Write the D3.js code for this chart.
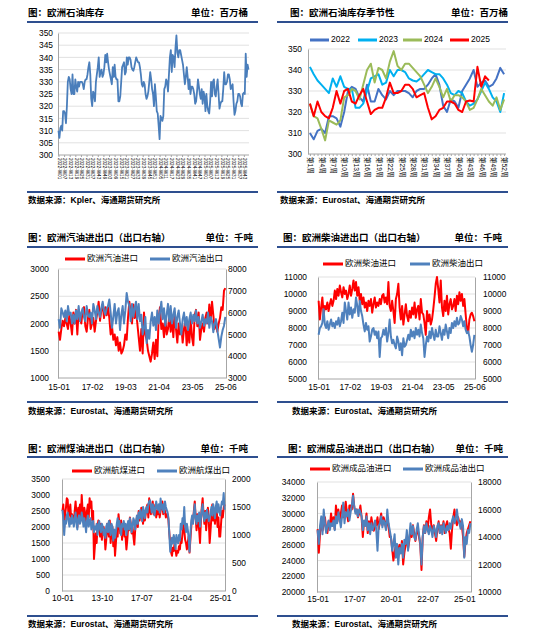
<!DOCTYPE html>
<html>
<head>
<meta charset="utf-8">
<script src="https://cdn.jsdelivr.net/npm/d3@7"></script>
<style>
  body { margin: 0; background: #fff; }
  svg text { font-family: "Liberation Sans", Arial, "Noto Sans CJK SC", sans-serif; fill: #000; }
</style>
</head>
<body>
<svg id="chart" width="550" height="637"></svg>
<script>
// ---- Weekly crude inventories (million bbl), by year ----
const inv2022 = [310,307,311,312,310,318,318,317,313,320,330,332,331,327,325,333,325,325,331,328,326,330,328,330,330,330,329,327,330,331,331,333,336,338,333,323,320,326,325,322,330,333,336,340,332,334,335,332,333,336,341,338];
const inv2023 = [341.5,338,335,333,331,329,336,332,337,332,331,331,322,322,324,330,336,337,338,333,334,340,337,340,340,339,336,335,334.5,336,338,340,339,338,338,336,333,329,328,330,329,325,323,324,326,330,334,331,327,325,320,329];
const inv2024 = [324,318,317,312,306.5,316,315,314,316,327,328,331,330,326,333,340,343,334,341,340,336,344,349,342,340,343,343,341,339,337,333,329,332,336,332,327,331,325,328,328,327,325,321,322,326,331,328,325,323,327,321,326];
const inv2025 = [324,318,325,320,318,317,322,330,324,330,331,325,324,328,331,325,319,321,322,322,327,334,329,329,330,333,333,331,327,328,329,322,316.5,318,321,322,325,325,324,321,320,325,325.5,325,341.5,332,337,335];

const invTicks = ["2022-W01","2022-W07","2022-W13","2022-W19","2022-W25","2022-W31","2022-W37","2022-W43","2022-W49",
  "2023-W03","2023-W09","2023-W15","2023-W21","2023-W27","2023-W33","2023-W39","2023-W45","2023-W51",
  "2024-W05","2024-W11","2024-W17","2024-W23","2024-W29","2024-W35","2024-W41","2024-W47",
  "2025-W01","2025-W07","2025-W13","2025-W19","2025-W25","2025-W31","2025-W37","2025-W43"];
const seasonYears = ["2022","2023","2024","2025"];
const seasonColors = ["#4472C4","#00B0F0","#9BBB59","#FF0000"];
const weekTicks = [1,4,7,10,13,16,19,22,25,28,31,34,37,40,43,46,49,52];

// ---- Gasoline imports / exports (kt), monthly 2015-01 .. 2025-06 ----
const gasImp = [1850,1700,1900,2050,1950,2100,2000,1900,2150,2000,1800,2200,
  2000,2250,1800,2250,2100,2000,2250,2300,1950,1850,2100,2250,
  1900,2000,2100,1850,2050,2200,2400,2050,2250,2350,2100,2300,
  2150,2300,2100,1800,1950,1700,1800,1600,1750,1500,1650,1450,
  1500,1600,1800,1700,2100,2400,2200,2000,2350,2100,2250,2000,
  1750,1500,1900,1450,2200,1800,1700,1500,1400,1300,1450,1650,
  1350,1700,1400,2100,2300,1900,2000,1750,2100,1800,1900,2150,
  1850,2100,1750,2200,1900,1650,2000,1800,1950,1650,1900,2050,
  1600,1900,1650,2100,1750,1600,2150,2250,1950,2200,1700,1900,
  2000,1850,2100,2200,2000,2350,2050,2400,2150,1900,2050,1850,
  2000,2100,2300,2250,2600,2650];
const gasExp = [5700,5300,6200,6000,5800,6100,5600,6300,5900,6000,5500,5900,
  5500,6100,5700,6300,5600,6000,6200,5800,5600,6300,5900,5800,
  6000,5500,6400,6100,5700,6300,6000,5800,6200,6500,6100,5900,
  6200,6300,6600,6000,5300,5800,6400,5500,6000,6200,5200,5900,
  6300,5500,6100,6900,6500,6300,5600,6400,5800,6200,6500,5700,
  6400,5600,5900,5000,5300,5800,4600,5200,4800,5600,6000,5400,
  5800,5200,6100,5500,6000,6500,5700,6200,5400,5900,6400,5600,
  6300,5500,5900,6200,5300,5800,6100,5500,5000,5700,6000,5400,
  5800,5200,5700,6000,5500,5900,5600,6100,5500,5800,5300,5600,
  5900,5400,5700,5500,6000,5300,5800,5600,5100,5500,5700,5200,
  4800,4400,4900,5200,5400,5800];
const gasTicks = ["15-01","17-02","19-03","21-04","23-05","25-06"];

// ---- Diesel imports / exports (kt), monthly 2015-01 .. 2025-06 ----
const dslImp = [9600,8500,9200,9800,8800,9300,9100,9500,9000,9400,9700,9300,
  9600,10200,9700,10300,9900,10500,10100,9800,10400,10000,10200,9700,
  10000,10500,9900,10300,10800,10200,10700,9900,10400,9600,10000,9400,
  9800,9200,9500,9000,9600,9300,9700,8900,9400,9800,9200,9500,
  9300,9700,9400,9900,10000,9500,9800,9400,10700,9300,9000,9600,
  9000,8300,9700,10000,10600,9200,8500,9300,8200,8800,9400,8700,
  8400,9000,8600,9200,8800,9500,8600,9100,9300,8500,9700,8900,
  8800,8300,7600,9000,8400,8800,8200,8500,9100,9800,10600,11000,
  10300,9500,10800,9200,8700,9600,9000,9900,8800,9400,9700,9100,
  9300,9700,9000,9900,9400,10100,9600,10000,9300,9700,8800,8000,
  7700,8500,8800,8900,8700,8400];
const dslExp = [7600,8000,8100,8300,9100,8200,8000,8400,7900,8200,8500,8100,
  8300,8000,8400,8200,8600,8100,8400,8900,8300,9500,9000,8500,
  9500,8800,9200,8600,9100,8900,9800,9300,8700,9600,9000,8700,
  8200,7800,8300,7900,8100,7200,7500,7900,8000,7600,7800,7400,
  7800,6300,7400,7500,7900,7600,8000,7200,7700,8500,7500,7100,
  7300,7000,6800,7500,7200,6700,7100,6400,7400,6900,7000,7300,
  7600,7300,7900,7500,7800,7400,8000,7600,7900,7500,8200,7700,
  7400,6300,7000,7500,7200,7800,7400,8000,7600,7300,7900,7500,
  7500,8100,7700,7300,7900,7600,8200,7800,7400,8000,7700,8300,
  8000,8400,8100,8600,8200,8300,8700,8500,8100,8400,7900,7700,
  7800,7500,7000,6600,7000,7600];
const dslTicks = ["15-01","17-02","19-03","21-04","23-05","25-06"];

// ---- Jet fuel imports / exports (kt), monthly 2010-01 .. 2025-06 ----
const jetImp = [2500,2700,2000,2400,2600,2900,2850,2300,2500,2700,2200,2400,
  2300,2100,2500,2800,2400,2000,2600,2400,2700,2300,3000,2500,
  2200,2600,2400,2000,2500,2700,2300,2900,2600,2800,2200,2500,
  1000,1400,1800,1500,2000,2200,1900,1700,2100,1600,1900,2000,
  1800,1300,1600,2100,1900,1700,2200,1500,1900,2000,1400,1800,
  1100,1500,1900,1700,2400,2100,1800,2200,1600,1900,2000,1700,
  1700,1300,1600,2000,1900,2300,2100,1800,2000,1700,1450,1900,
  2100,2300,2000,2500,2200,2400,2600,2300,2100,2500,2200,2400,
  2600,2700,2300,2900,2500,2400,2600,2800,2400,2500,2700,2300,
  2500,2400,2600,2300,2500,2700,2800,2400,2600,2500,2300,2400,
  2400,2200,1800,1500,1200,1100,1350,1250,1500,1300,1100,1250,
  1200,1400,1300,1600,1500,1800,2100,1900,1600,1500,1300,1500,
  1700,1200,1600,2000,2300,2200,2500,2800,2300,1900,2400,2100,
  1900,1500,2200,2600,2900,2400,2100,2500,1900,2300,2600,2200,
  1500,1900,2300,2700,2200,2500,2100,2400,2600,2000,2300,1700,
  1700,2100,2500,2300,2600,2700];
const jetExp = [1450,1300,1000,1250,1200,1350,1400,1250,1150,1300,1200,1350,
  1250,1150,1300,1400,1200,1100,1300,1350,1200,1250,1400,1300,
  1150,1300,1200,1050,1250,1350,1150,1250,1300,1100,1200,1250,
  1050,1150,1100,1200,1000,1150,1250,1100,1050,1200,1150,1000,
  1100,950,1150,1200,1050,1250,1100,1000,1200,1150,900,1100,
  950,1050,1200,1300,1150,1250,1100,1000,1200,1150,1250,1100,
  1200,1000,1150,1250,1100,1300,1200,1050,1150,1300,1250,1100,
  1250,1350,1200,1400,1300,1450,1350,1250,1500,1400,1300,1450,
  1500,1400,1550,1600,1620,1500,1400,1550,1500,1350,1450,1600,
  1500,1450,1550,1400,1650,1500,1450,1550,1400,1600,1500,1450,
  1400,1300,1000,700,800,950,850,1000,900,750,1000,900,
  850,1000,900,1200,1100,1300,1200,1500,1150,1050,1200,1100,
  950,700,1000,1250,1350,1200,1400,1550,1300,1200,1350,1250,
  1400,1150,1300,1450,1550,1350,1250,1400,1300,1450,1350,1250,
  1300,1400,1500,1350,1550,1450,1300,1500,1600,1400,1550,1450,
  1350,1500,1600,1550,1750,1450];
const jetTicks = ["10-01","13-10","17-07","21-04","25-01"];

// ---- Refined products imports / exports (kt), monthly 2015-01 .. 2025-06 ----
const prdImp = [28000,25000,27500,29000,27800,28500,29500,28000,27500,29000,28200,30000,
  28500,29500,28000,31000,29500,30500,29000,30000,31000,29500,30200,31500,
  30000,29000,31000,31000,30500,32500,30800,30200,30500,29500,30000,31000,
  29500,27000,29000,28500,30000,27500,29000,28000,29500,28500,27800,29000,
  28500,29500,28000,29000,30000,28500,29500,29000,28000,29500,28500,27000,
  27000,25500,24000,25000,26000,24500,25500,26000,25000,26500,23500,25000,
  26000,27000,25500,26500,28000,27000,28500,27500,26500,27500,28000,27000,
  26000,22800,27000,28500,27500,29000,28000,29500,30500,28500,27500,28500,
  27500,26500,28000,29000,27500,28500,28000,29000,27500,28500,29000,28000,
  27500,25500,28000,29500,30500,29000,28500,29500,28800,29000,28500,27000,
  24500,26500,27500,28000,28500,29000];
const prdExp = [14500,13500,14800,15500,14200,16000,15000,14300,14800,15200,14500,15000,
  14800,15200,14500,15500,15000,15800,15300,14700,15500,16500,15000,15800,
  15500,16000,15200,15800,16300,17000,16200,15700,16000,15500,16000,15800,
  15500,14500,15200,14800,15500,14500,15000,14200,15000,14500,14800,15200,
  14500,13000,14800,15000,15500,14700,15200,15000,14500,16000,15000,14500,
  14000,13000,13500,14200,12500,13500,12000,13200,12800,13500,12500,13800,
  13500,14500,13000,14000,15000,14200,14800,14000,13800,14500,15000,14200,
  13500,12000,14000,14800,14300,15000,14500,14200,14800,14500,14000,14800,
  14500,14000,14800,15000,14300,14800,14200,15000,14600,14300,14800,14500,
  15000,14600,15200,15500,15000,15300,16000,15200,15000,14600,15300,14800,
  12500,14000,13500,14500,14300,15000];
const prdTicks = ["15-01","17-07","20-01","22-07","25-01"];

// ---- helpers ----
const svg = d3.select("#chart");
const CJK = '"Liberation Sans", "Noto Sans CJK SC", sans-serif';
const NAVY = "#2E4F8F";
const AXIS = "#A6A6A6";
const GRID = "#D9D9D9";
const plain = d3.format("d");

// month keys like "15-01"
function monthCats(year, month, n) {
  const out = [];
  for (let i = 0; i < n; i++) {
    const yy = year + Math.floor((month - 1 + i) / 12);
    const mm = ((month - 1 + i) % 12) + 1;
    out.push(String(yy % 100).padStart(2, "0") + "-" + String(mm).padStart(2, "0"));
  }
  return out;
}

function header(h) {
  svg.append("text").attr("x", h.titleX).attr("y", h.titleY)
    .attr("dominant-baseline", "middle").attr("font-size", 9.5).attr("font-weight", "bold")
    .attr("font-family", CJK).text(h.title);
  svg.append("text").attr("x", h.unitX).attr("y", h.titleY).attr("text-anchor", "end")
    .attr("dominant-baseline", "middle").attr("font-size", 9.5).attr("font-weight", "bold")
    .attr("font-family", CJK).text(h.unit);
  [h.lineY, h.bottomY].forEach((y) => {
    svg.append("line").attr("x1", h.x0).attr("x2", h.x1).attr("y1", y).attr("y2", y)
      .attr("stroke", NAVY).attr("stroke-width", 2);
  });
  svg.append("text").attr("x", h.sourceX).attr("y", h.sourceY)
    .attr("dominant-baseline", "middle").attr("font-size", 8.5).attr("font-weight", "bold")
    .attr("font-family", CJK).text(h.source);
}

function styleAxis(g, size) {
  g.attr("font-family", '"Liberation Sans", Arial, sans-serif').attr("font-size", size);
  g.select(".domain").attr("stroke", AXIS);
  g.selectAll(".tick line").attr("stroke", AXIS);
}

function legendItem(x, y, color, label, len, size, family) {
  svg.append("line").attr("x1", x).attr("x2", x + len).attr("y1", y).attr("y2", y)
    .attr("stroke", color).attr("stroke-width", 3);
  svg.append("text").attr("x", x + len + 2).attr("y", y).attr("dominant-baseline", "middle")
    .attr("font-size", size).attr("font-family", family).text(label);
}

// dual-axis line panel, red on left axis, blue on right axis
function dualPanel(p) {
  const x = d3.scalePoint().domain(p.cats).range([p.x0, p.x1]).padding(0.5);
  const yL = d3.scaleLinear().domain(p.leftDomain).range([p.y1, p.y0]);
  const yR = d3.scaleLinear().domain(p.rightDomain).range([p.y1, p.y0]);

  svg.append("g").selectAll("line").data(p.leftTicks.slice(1)).join("line")
    .attr("x1", p.x0).attr("x2", p.x1).attr("y1", (d) => yL(d)).attr("y2", (d) => yL(d))
    .attr("stroke", GRID).attr("stroke-width", 0.8);

  const gl = svg.append("g").attr("transform", `translate(${p.x0},0)`)
    .call(d3.axisLeft(yL).tickValues(p.leftTicks).tickFormat(plain).tickSize(0).tickSizeOuter(0).tickPadding(p.x0 - p.leftEnd));
  styleAxis(gl, 8.4);
  const gr = svg.append("g").attr("transform", `translate(${p.x1},0)`)
    .call(d3.axisRight(yR).tickValues(p.rightTicks).tickFormat(plain).tickSize(0).tickSizeOuter(0).tickPadding(p.rightStart - p.x1));
  styleAxis(gr, 8.4);
  const gb = svg.append("g").attr("transform", `translate(0,${p.y1})`)
    .call(d3.axisBottom(x).tickValues(p.ticks).tickSize(0).tickSizeOuter(0).tickPadding(p.labelY - p.y1 - 6));
  styleAxis(gb, 8.5);
  gb.select(".domain").attr("d", `M${p.x0},0H${p.x1}`);

  const lineL = d3.line().x((d, i) => x(p.cats[i])).y((d) => yL(d));
  const lineR = d3.line().x((d, i) => x(p.cats[i])).y((d) => yR(d));
  svg.append("path").datum(p.red).attr("d", lineL).attr("fill", "none")
    .attr("stroke", "#FF0000").attr("stroke-width", 2).attr("stroke-linejoin", "round");
  svg.append("path").datum(p.blue).attr("d", lineR).attr("fill", "none")
    .attr("stroke", "#4F81BD").attr("stroke-width", 2).attr("stroke-linejoin", "round");

  legendItem(p.legRed, p.legY, "#FF0000", p.redLabel, 20, 8.5, CJK);
  legendItem(p.legBlue, p.legY, "#4F81BD", p.blueLabel, 20, 8.5, CJK);
}

// ---- Panel 1: inventories ----
header({ title: "图：欧洲石油库存", unit: "单位：百万桶", titleX: 28, titleY: 13, unitX: 248,
  x0: 27, x1: 258, lineY: 22, bottomY: 192, sourceX: 28, sourceY: 201,
  source: "数据来源：Kpler、海通期货研究所" });
(function () {
  const series = [...inv2022, ...inv2023, ...inv2024, ...inv2025];
  const cats = [];
  [[2022, 52], [2023, 52], [2024, 52], [2025, inv2025.length]].forEach(([yr, n]) => {
    for (let w = 1; w <= n; w++) cats.push(`${yr}-W${String(w).padStart(2, "0")}`);
  });
  const x0 = 58, x1 = 249, y0 = 33, y1 = 155;
  const x = d3.scalePoint().domain(cats).range([x0, x1]).padding(0.5);
  const y = d3.scaleLinear().domain([300, 350]).range([y1, y0]);
  const yt = d3.range(300, 351, 5);
  svg.append("g").selectAll("line").data(yt.slice(1)).join("line")
    .attr("x1", x0).attr("x2", x1).attr("y1", (d) => y(d)).attr("y2", (d) => y(d))
    .attr("stroke", GRID).attr("stroke-width", 0.8);
  const gl = svg.append("g").attr("transform", `translate(${x0},0)`)
    .call(d3.axisLeft(y).tickValues(yt).tickFormat(plain).tickSize(0).tickSizeOuter(0).tickPadding(5));
  styleAxis(gl, 8.4);
  const gb = svg.append("g").attr("transform", `translate(0,${y1})`)
    .call(d3.axisBottom(x).tickValues(invTicks).tickSize(2).tickSizeOuter(0));
  styleAxis(gb, 4.6);
  gb.select(".domain").attr("d", `M${x0},0H${x1}`);
  gb.selectAll(".tick text").attr("text-anchor", "start").attr("dy", null).attr("y", 0)
    .attr("transform", "translate(0,3) rotate(90)").attr("dominant-baseline", "middle").attr("fill", "#000");
  svg.append("path").datum(series)
    .attr("d", d3.line().x((d, i) => x(cats[i])).y((d) => y(d)))
    .attr("fill", "none").attr("stroke", "#4A7EBB").attr("stroke-width", 1.8).attr("stroke-linejoin", "round");
})();

// ---- Panel 2: seasonality ----
header({ title: "图：欧洲石油库存季节性", unit: "单位：百万桶", titleX: 290, titleY: 13, unitX: 508,
  x0: 277, x1: 508, lineY: 22, bottomY: 192, sourceX: 280, sourceY: 201,
  source: "数据来源：Eurostat、海通期货研究所" });
(function () {
  const weeks = d3.range(1, 53);
  const x0 = 308, x1 = 506, y0 = 49, y1 = 154;
  const x = d3.scalePoint().domain(weeks).range([x0, x1]).padding(0.5);
  const y = d3.scaleLinear().domain([300, 350]).range([y1, y0]);
  const yt = d3.range(300, 351, 10);
  svg.append("g").selectAll("line").data(yt.slice(1)).join("line")
    .attr("x1", x0).attr("x2", x1).attr("y1", (d) => y(d)).attr("y2", (d) => y(d))
    .attr("stroke", GRID).attr("stroke-width", 0.8);
  const gl = svg.append("g").attr("transform", `translate(${x0},0)`)
    .call(d3.axisLeft(y).tickValues(yt).tickFormat(plain).tickSize(0).tickSizeOuter(0).tickPadding(6));
  styleAxis(gl, 8.4);
  const gt = svg.append("g").attr("transform", `translate(0,${y1})`)
    .call(d3.axisBottom(x).tickValues(weeks).tickSize(2).tickFormat("").tickSizeOuter(0));
  styleAxis(gt, 6);
  gt.select(".domain").attr("d", `M${x0},0H${x1}`);
  svg.append("g").selectAll("text").data(weekTicks).join("text")
    .attr("transform", (d) => `translate(${x(d)},${y1 + 3}) rotate(90)`)
    .attr("dominant-baseline", "middle").attr("font-size", 6.6).attr("font-family", CJK)
    .text((d) => `第${d}周`);
  const line = d3.line().x((d, i) => x(weeks[i])).y((d) => y(d));
  [inv2022, inv2023, inv2024, inv2025].forEach((s, k) => {
    svg.append("path").datum(s).attr("d", line).attr("fill", "none")
      .attr("stroke", seasonColors[k]).attr("stroke-width", 2).attr("stroke-linejoin", "round");
  });
  const legX = [310, 358, 403, 450];
  seasonYears.forEach((yr, k) => legendItem(legX[k], 40, seasonColors[k], yr, 19, 8.5, '"Liberation Sans", Arial, sans-serif'));
})();

// ---- Panel 3: gasoline ----
header({ title: "图：欧洲汽油进出口（出口右轴）", unit: "单位：千吨", titleX: 28, titleY: 238, unitX: 253,
  x0: 27, x1: 258, lineY: 247, bottomY: 402, sourceX: 28, sourceY: 412,
  source: "数据来源：Eurostat、海通期货研究所" });
dualPanel({ cats: monthCats(2015, 1, gasImp.length), ticks: gasTicks,
  x0: 58, x1: 226, y0: 269, y1: 378, leftEnd: 49, rightStart: 228, labelY: 390,
  leftDomain: [1000, 3000], leftTicks: d3.range(1000, 3001, 500),
  rightDomain: [3000, 8000], rightTicks: d3.range(3000, 8001, 1000),
  red: gasImp, blue: gasExp, legY: 259, legRed: 65, legBlue: 150,
  redLabel: "欧洲汽油进口", blueLabel: "欧洲汽油出口" });

// ---- Panel 4: diesel ----
header({ title: "图：欧洲柴油进出口（出口右轴）", unit: "单位：千吨", titleX: 283, titleY: 238, unitX: 502,
  x0: 277, x1: 508, lineY: 247, bottomY: 402, sourceX: 292, sourceY: 412,
  source: "数据来源：Eurostat、海通期货研究所" });
dualPanel({ cats: monthCats(2015, 1, dslImp.length), ticks: dslTicks,
  x0: 318, x1: 475, y0: 277, y1: 379, leftEnd: 307, rightStart: 483, labelY: 390,
  leftDomain: [5000, 11000], leftTicks: d3.range(5000, 11001, 1000),
  rightDomain: [5000, 11000], rightTicks: d3.range(5000, 11001, 1000),
  red: dslImp, blue: dslExp, legY: 264, legRed: 323, legBlue: 410,
  redLabel: "欧洲柴油进口", blueLabel: "欧洲柴油出口" });

// ---- Panel 5: jet fuel ----
header({ title: "图：欧洲煤油进出口（出口右轴）", unit: "单位：千吨", titleX: 28, titleY: 449, unitX: 248,
  x0: 27, x1: 258, lineY: 457, bottomY: 616, sourceX: 28, sourceY: 625,
  source: "数据来源：Eurostat、海通期货研究所" });
dualPanel({ cats: monthCats(2010, 1, jetImp.length), ticks: jetTicks,
  x0: 62, x1: 225, y0: 479, y1: 591, leftEnd: 50, rightStart: 232, labelY: 601,
  leftDomain: [0, 3500], leftTicks: d3.range(0, 3501, 500),
  rightDomain: [0, 2000], rightTicks: d3.range(0, 2001, 500),
  red: jetImp, blue: jetExp, legY: 471, legRed: 72, legBlue: 157,
  redLabel: "欧洲航煤进口", blueLabel: "欧洲航煤出口" });

// ---- Panel 6: refined products ----
header({ title: "图：欧洲成品油进出口（出口右轴）", unit: "单位：千吨", titleX: 288, titleY: 449, unitX: 503,
  x0: 277, x1: 508, lineY: 457, bottomY: 616, sourceX: 292, sourceY: 625,
  source: "数据来源：Eurostat、海通期货研究所" });
dualPanel({ cats: monthCats(2015, 1, prdImp.length), ticks: prdTicks,
  x0: 317, x1: 471, y0: 482, y1: 592, leftEnd: 305, rightStart: 478, labelY: 602,
  leftDomain: [20000, 34000], leftTicks: d3.range(20000, 34001, 2000),
  rightDomain: [10000, 18000], rightTicks: d3.range(10000, 18001, 2000),
  red: prdImp, blue: prdExp, legY: 469, legRed: 310, legBlue: 403,
  redLabel: "欧洲成品油进口", blueLabel: "欧洲成品油出口" });
</script>
</body>
</html>
